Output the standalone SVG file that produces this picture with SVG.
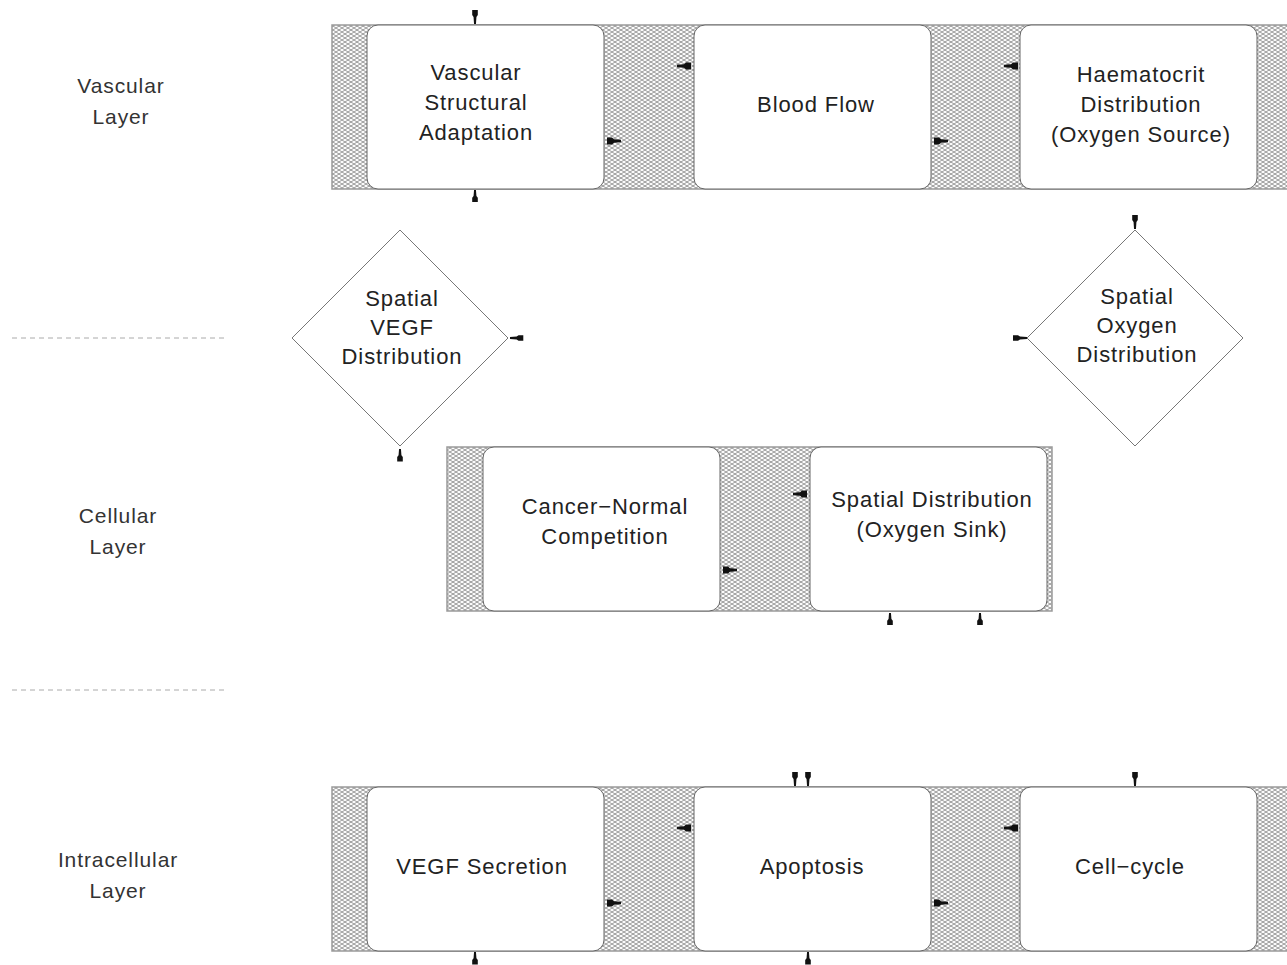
<svg xmlns="http://www.w3.org/2000/svg" xmlns:xlink="http://www.w3.org/1999/xlink" width="1287" height="965" viewBox="0 0 1287 965">
<style>
.t{font-family:"Liberation Sans",Arial,sans-serif;font-size:22px;letter-spacing:0.9px;fill:#222;text-anchor:middle}
.lbl{font-family:"Liberation Sans",Arial,sans-serif;font-size:21px;letter-spacing:0.9px;fill:#333;text-anchor:middle}
.band{fill:url(#hatch);stroke:#9a9a9a;stroke-width:1.5}
.box{fill:#fff;stroke:#666;stroke-width:1}
.dia{fill:#fff;stroke:#777;stroke-width:1}
.dash{stroke:#aaa;stroke-width:1;stroke-dasharray:5 4}
.ah{fill:#111}
</style>
<defs>
<pattern id="hatch" width="6" height="4" patternUnits="userSpaceOnUse">
<rect width="6" height="4" fill="#fbfbfb"/>
<path d="M0,0 L6,4 M0,4 L6,0" stroke="#8f8f8f" stroke-width="0.9" fill="none"/>
</pattern>
<path id="ah" d="M0,-1.2 L7,-1.8 L9,-3.5 L14,-3.5 L14,3.5 L9,3.5 L7,1.8 L0,1.2 Z"/>
</defs>

<g id="layer-labels">
<text class="lbl" x="121" y="93">Vascular</text>
<text class="lbl" x="121" y="124">Layer</text>
<text class="lbl" x="118" y="523">Cellular</text>
<text class="lbl" x="118" y="554">Layer</text>
<text class="lbl" x="118" y="867">Intracellular</text>
<text class="lbl" x="118" y="898">Layer</text>
<line class="dash" x1="12" y1="338" x2="225" y2="338"/>
<line class="dash" x1="12" y1="690" x2="225" y2="690"/>
</g>

<g id="band-vascular">
<rect class="band" x="332" y="25" width="960" height="164"/>
</g>
<g id="band-cellular">
<rect class="band" x="447" y="447" width="605" height="164"/>
</g>
<g id="band-intracellular">
<rect class="band" x="332" y="787" width="960" height="164"/>
</g>

<g id="node-vascular-adaptation">
<rect class="box" x="367" y="25" width="237" height="164" rx="11"/>
<text class="t" x="476" y="80">Vascular</text>
<text class="t" x="476" y="110">Structural</text>
<text class="t" x="476" y="140">Adaptation</text>
</g>
<g id="node-blood-flow">
<rect class="box" x="694" y="25" width="237" height="164" rx="11"/>
<text class="t" x="816" y="112">Blood Flow</text>
</g>
<g id="node-haematocrit">
<rect class="box" x="1020" y="25" width="237" height="164" rx="11"/>
<text class="t" x="1141" y="82">Haematocrit</text>
<text class="t" x="1141" y="112">Distribution</text>
<text class="t" x="1141" y="142">(Oxygen Source)</text>
</g>

<g id="node-vegf-distribution">
<polygon class="dia" points="400,230 508,338 400,446 292,338"/>
<text class="t" x="402" y="306">Spatial</text>
<text class="t" x="402" y="335">VEGF</text>
<text class="t" x="402" y="364">Distribution</text>
</g>
<g id="node-oxygen-distribution">
<polygon class="dia" points="1135,230 1243,338 1135,446 1027,338"/>
<text class="t" x="1137" y="304">Spatial</text>
<text class="t" x="1137" y="333">Oxygen</text>
<text class="t" x="1137" y="362">Distribution</text>
</g>

<g id="node-cancer-normal">
<rect class="box" x="483" y="447" width="237" height="164" rx="11"/>
<text class="t" x="605" y="514">Cancer−Normal</text>
<text class="t" x="605" y="544">Competition</text>
</g>
<g id="node-oxygen-sink">
<rect class="box" x="810" y="447" width="237" height="164" rx="11"/>
<text class="t" x="932" y="507">Spatial Distribution</text>
<text class="t" x="932" y="537">(Oxygen Sink)</text>
</g>

<g id="node-vegf-secretion">
<rect class="box" x="367" y="787" width="237" height="164" rx="11"/>
<text class="t" x="482" y="874">VEGF Secretion</text>
</g>
<g id="node-apoptosis">
<rect class="box" x="694" y="787" width="237" height="164" rx="11"/>
<text class="t" x="812" y="874">Apoptosis</text>
</g>
<g id="node-cell-cycle">
<rect class="box" x="1020" y="787" width="237" height="164" rx="11"/>
<text class="t" x="1130" y="874">Cell−cycle</text>
</g>

<g id="connectors" class="ah">
<use xlink:href="#ah" transform="translate(475,24) rotate(-90) scale(1,0.8)"/>
<use xlink:href="#ah" transform="translate(475,190) rotate(90) scale(0.85,0.8)"/>
<use xlink:href="#ah" transform="translate(677,66)"/>
<use xlink:href="#ah" transform="translate(621,141) rotate(180)"/>
<use xlink:href="#ah" transform="translate(1004,66)"/>
<use xlink:href="#ah" transform="translate(948,141) rotate(180)"/>

<use xlink:href="#ah" transform="translate(510,338) scale(0.95,0.8)"/>
<use xlink:href="#ah" transform="translate(400,449) rotate(90) scale(0.9,0.8)"/>
<use xlink:href="#ah" transform="translate(1135,229) rotate(-90) scale(1,0.8)"/>
<use xlink:href="#ah" transform="translate(1027,338) rotate(180) scale(1,0.8)"/>

<use xlink:href="#ah" transform="translate(793,494)"/>
<use xlink:href="#ah" transform="translate(737,570) rotate(180)"/>
<use xlink:href="#ah" transform="translate(890,613) rotate(90) scale(0.85,0.8)"/>
<use xlink:href="#ah" transform="translate(980,613) rotate(90) scale(0.85,0.8)"/>

<use xlink:href="#ah" transform="translate(795,786) rotate(-90) scale(1,0.8)"/>
<use xlink:href="#ah" transform="translate(808,786) rotate(-90) scale(1,0.8)"/>
<use xlink:href="#ah" transform="translate(1135,786) rotate(-90) scale(1,0.8)"/>
<use xlink:href="#ah" transform="translate(677,828)"/>
<use xlink:href="#ah" transform="translate(621,903) rotate(180)"/>
<use xlink:href="#ah" transform="translate(1004,828)"/>
<use xlink:href="#ah" transform="translate(948,903) rotate(180)"/>
<use xlink:href="#ah" transform="translate(475,952) rotate(90) scale(0.9,0.8)"/>
<use xlink:href="#ah" transform="translate(808,952) rotate(90) scale(0.9,0.8)"/>
</g>
</svg>
